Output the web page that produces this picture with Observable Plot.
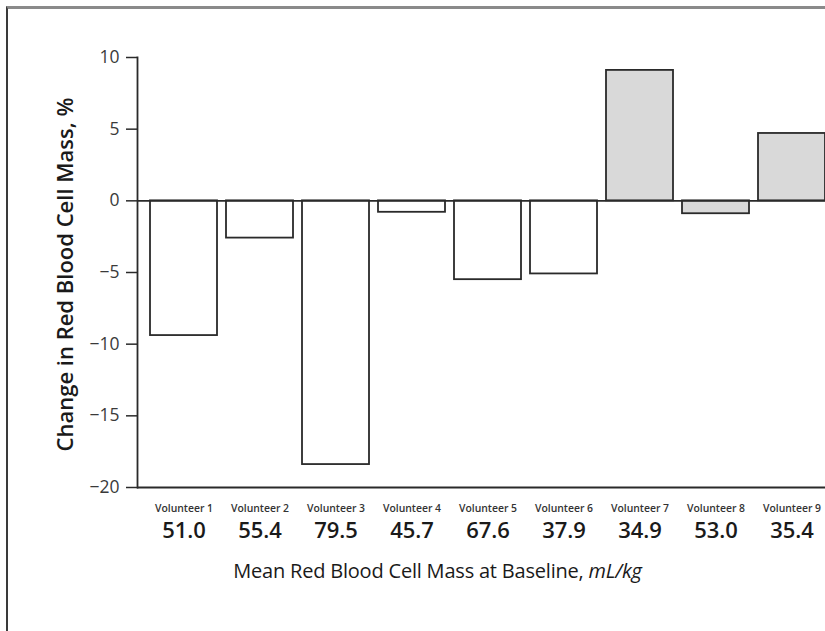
<!DOCTYPE html>
<html>
<head>
<meta charset="utf-8">
<script src="https://cdn.jsdelivr.net/npm/d3@7"></script>
<script src="https://cdn.jsdelivr.net/npm/@observablehq/plot@0.6"></script>
<style>
  html, body { margin: 0; padding: 0; background: #fff; overflow: hidden; }
  #wrap { position: relative; width: 825px; height: 631px; overflow: hidden; }
  #panel {
    position: absolute; left: 6px; top: 6px; width: 830px; height: 640px;
    border-top: 3px solid #8a8a8a; border-left: 2px solid #3a3a3a;
  }
  #chart { position: absolute; left: 0; top: 0; width: 838px; }
  #chart svg { max-width: none !important; }
  #xtitle {
    position: absolute; top: 557px; left: 0; width: 875px; text-align: center;
    font-family: "Open Sans", sans-serif; font-size: 20px; color: #1a1a1a;
    letter-spacing: -0.2px;
  }
</style>
</head>
<body>
<div id="wrap">
  <div id="panel"></div>
  <div id="chart"></div>
  <div id="xtitle">Mean Red Blood Cell Mass at Baseline, <i>mL/kg</i></div>
</div>
<script>
// Per-volunteer results
const volunteers = ["Volunteer 1", "Volunteer 2", "Volunteer 3", "Volunteer 4", "Volunteer 5",
                    "Volunteer 6", "Volunteer 7", "Volunteer 8", "Volunteer 9"];
const changePct = [-9.4, -2.6, -18.4, -0.8, -5.5, -5.1, 9.1, -0.9, 4.7];
const baselineMass = [51.0, 55.4, 79.5, 45.7, 67.6, 37.9, 34.9, 53.0, 35.4];
const shaded = [false, false, false, false, false, false, true, true, true];
const yTicks = [-20, -15, -10, -5, 0, 5, 10];

const rows = volunteers.map((name, i) => ({
  name, change: changePct[i], mass: baselineMass[i], shaded: shaded[i]
}));

const font = "'Open Sans', sans-serif";
const ink = "#2a2a2a";

const chart = Plot.plot({
  width: 838,
  height: 631,
  marginLeft: 137,
  marginRight: 0,
  marginTop: 57,
  marginBottom: 144,
  style: { fontFamily: font, color: ink, background: "transparent", maxWidth: "none" },
  x: { type: "band", domain: volunteers, padding: 0.12, axis: null },
  y: { domain: [-20, 10], axis: null },
  marks: [
    Plot.barY(rows, {
      x: "name", y: "change",
      fill: d => d.shaded ? "#d9d9d9" : "#fff",
      stroke: ink, strokeWidth: 1.8
    }),
    Plot.ruleY([0, -20], { stroke: ink, strokeWidth: 1.8 }),
    Plot.frame({ anchor: "left", stroke: ink, strokeWidth: 1.8 }),
    Plot.axisY({
      ticks: yTicks, tickSize: 11, tickPadding: 7, fontSize: 17.5,
      stroke: ink, strokeWidth: 1.5, label: null, fill: "#3a3a3a"
    }),
    Plot.text(["Change in Red Blood Cell Mass, %"], {
      frameAnchor: "left", textAnchor: "middle", dx: -72, dy: 2, rotate: -90,
      fontSize: 22, fontWeight: 600, fill: "#1a1a1a"
    }),
    Plot.text(rows, {
      x: "name", text: "name", frameAnchor: "bottom", dy: 24,
      fontSize: 10.4, fontWeight: 600, fill: "#333"
    }),
    Plot.text(rows, {
      x: "name", text: d => d.mass.toFixed(1), frameAnchor: "bottom", dy: 50,
      fontSize: 22, fontWeight: 600, fill: "#1a1a1a", letterSpacing: 0.7
    })
  ]
});

document.getElementById("chart").appendChild(chart);
</script>
</body>
</html>
